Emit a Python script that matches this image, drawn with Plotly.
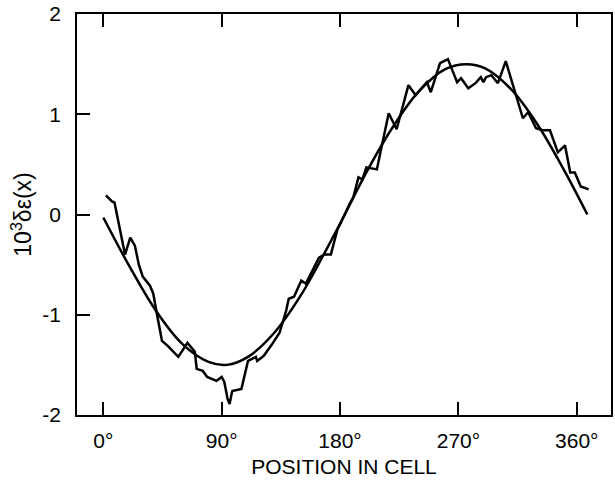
import plotly.graph_objects as go

# Measured strain deviation across one cell (degrees, 10^3 * delta-epsilon)
measured_x = [2, 6.6, 8.5, 16.5, 20.5, 24, 27, 30, 35.5, 38, 41, 44.6, 49, 57, 64,
              69.6, 71, 75.6, 79, 86, 90, 92, 94.5, 96, 98, 105, 110, 116, 117, 122,
              128, 134, 139, 141, 145, 150.5, 154, 164, 168, 173, 178, 180, 187, 190,
              194, 197, 200, 208, 212, 217, 223, 227, 230, 232, 237.5, 246, 249, 256,
              262, 269, 272, 277.5, 283, 287, 289, 291, 295, 300, 306, 313, 319, 323,
              329, 334, 339.6, 345.6, 351, 355, 358.5, 363, 369]
measured_y = [0.19, 0.13, 0.12, -0.40, -0.23, -0.31, -0.50, -0.62, -0.71, -0.79, -1.01,
              -1.26, -1.31, -1.42, -1.28, -1.37, -1.54, -1.56, -1.62, -1.66, -1.62, -1.67,
              -1.84, -1.89, -1.76, -1.74, -1.46, -1.42, -1.46, -1.41, -1.30, -1.18, -0.96,
              -0.84, -0.82, -0.66, -0.69, -0.43, -0.40, -0.40, -0.15, -0.10, 0.10, 0.17,
              0.37, 0.35, 0.47, 0.45, 0.70, 1.01, 0.85, 1.04, 1.21, 1.29, 1.19, 1.32, 1.22,
              1.51, 1.55, 1.32, 1.36, 1.26, 1.31, 1.37, 1.32, 1.37, 1.39, 1.31, 1.53, 1.21,
              0.96, 1.02, 0.86, 0.84, 0.84, 0.62, 0.69, 0.42, 0.42, 0.28, 0.25]

# Sinusoidal fit through the data
fit_x = [0, 20, 40, 60, 80, 94, 110, 130, 150, 170, 184, 200, 220, 240, 260, 276,
         290, 310, 330, 350, 368]
fit_y = [-0.03, -0.52, -0.96, -1.29, -1.47, -1.50, -1.42, -1.18, -0.81, -0.34, 0.01,
         0.42, 0.87, 1.23, 1.45, 1.50, 1.46, 1.25, 0.90, 0.45, 0.0]

x_ticks = [0, 90, 180, 270, 360]
x_tick_labels = ["0°", "90°", "180°", "270°", "360°"]
y_ticks = [-2, -1, 0, 1, 2]
y_tick_labels = ["-2", "-1", "0", "1", "2"]

family = "Liberation Sans, Arial, sans-serif"
font = dict(family=family, size=21, color="black")
ytitle_font = dict(family=family, size=23, color="black")

fig = go.Figure()
fig.add_trace(go.Scatter(x=fit_x, y=fit_y, mode="lines",
                         line=dict(color="black", width=2.5, shape="spline"),
                         showlegend=False))
fig.add_trace(go.Scatter(x=measured_x, y=measured_y, mode="lines",
                         line=dict(color="black", width=2.5),
                         showlegend=False))

fig.update_layout(
    width=615, height=480,
    margin=dict(l=77, r=2, t=12, b=65),
    plot_bgcolor="white", paper_bgcolor="white",
    font=font,
    xaxis=dict(range=[-20, 386], tickvals=x_ticks, ticktext=x_tick_labels,
               tickfont=font,
               ticks="inside", ticklen=13, tickwidth=1.5, tickcolor="black",
               showline=True, linecolor="black", linewidth=1.5, mirror="ticks",
               showgrid=False, zeroline=False, ticklabelstandoff=6,
               title=dict(text="POSITION IN CELL", standoff=8, font=font)),
    yaxis=dict(range=[-2, 2], tickvals=y_ticks, ticktext=y_tick_labels,
               tickfont=font,
               ticks="inside", ticklen=13, tickwidth=1.5, tickcolor="black",
               showline=True, linecolor="black", linewidth=1.5, mirror=True,
               showgrid=False, zeroline=False, ticklabelstandoff=10,
               title=dict(text="10<sup>3</sup>δε(x)", standoff=4, font=ytitle_font)),
)

fig.write_html("out.html")
